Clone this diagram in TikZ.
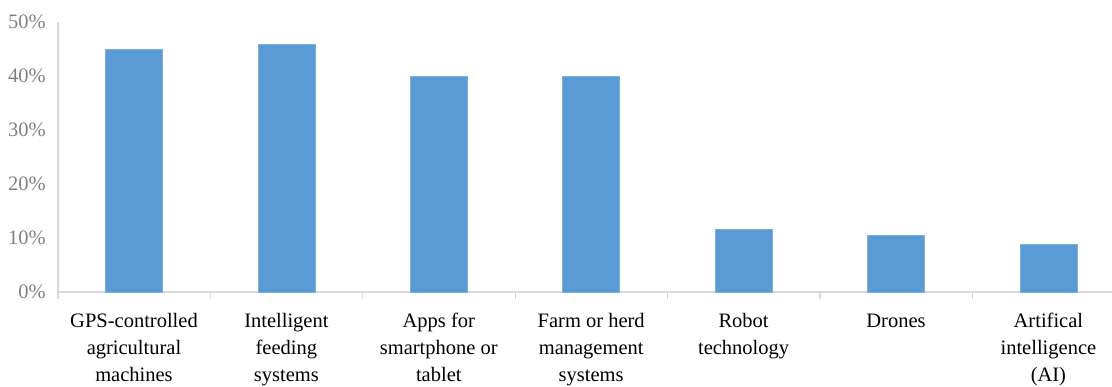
\documentclass[tikz,border=0pt]{standalone}
\usepackage{fontspec}
\setmainfont{Liberation Serif}
\definecolor{barblue}{HTML}{5B9BD5}
\definecolor{axisgrey}{HTML}{D9D9D9}
\definecolor{ticklabel}{HTML}{808080}
\begin{document}
\begin{tikzpicture}[x=1pt,y=1pt,
  bar/.style={fill=barblue,draw=barblue!80!white,line width=0.6pt},
  axisline/.style={draw=axisgrey,line width=1.3pt},
  ylab/.style={anchor=east,inner sep=0pt,text=ticklabel,font=\fontsize{20.5}{24}\selectfont},
  catlab/.style={anchor=base,inner sep=0pt,align=center,text=black,font=\fontsize{20.5}{27}\selectfont}]
\useasboundingbox (0,0) rectangle (1112,387);
% axes
\coordinate (o) at (58,95);
\coordinate (ytop) at (58,365);
\coordinate (xend) at (1125,95);
\draw[axisline] (ytop) -- (58,88);
\draw[axisline] (o) -- (xend);
\foreach \i in {1,...,6} {
  \draw[axisline] (58+152.4*\i,95) -- (58+152.4*\i,88);
}
% y labels
\foreach \v [count=\k from 0] in {0,10,20,30,40,50} {
  \node[ylab] (y\k) at (46,95+54*\k) {\v\%};
}
% bars (tops in px from image top)
\foreach \t [count=\i from 0] in {49,44,76.5,76.5,229,235,244} {
  \fill[bar] (134+152.4*\i-28.5,95) rectangle (134+152.4*\i+28.5,387-\t);
}
% category labels (base anchor = baseline of last line)
\node[catlab] (c1) at (134,5) {GPS-controlled\\agricultural\\machines};
\node[catlab] (c2) at (134+152.4,5) {Intelligent\\feeding\\systems};
\node[catlab] (c3) at (134+2*152.4,5) {Apps for\\smartphone or\hspace*{10pt}\\tablet};
\node[catlab] (c4) at (134+3*152.4,5) {Farm or herd\\management\\systems};
\node[catlab] (c5) at (134+4*152.4,32) {Robot\\technology};
\node[catlab] (c6) at (134+5*152.4,59) {Drones};
\node[catlab] (c7) at (134+6*152.4,5) {Artifical\\intelligence\\(AI)};
\end{tikzpicture}
\end{document}
